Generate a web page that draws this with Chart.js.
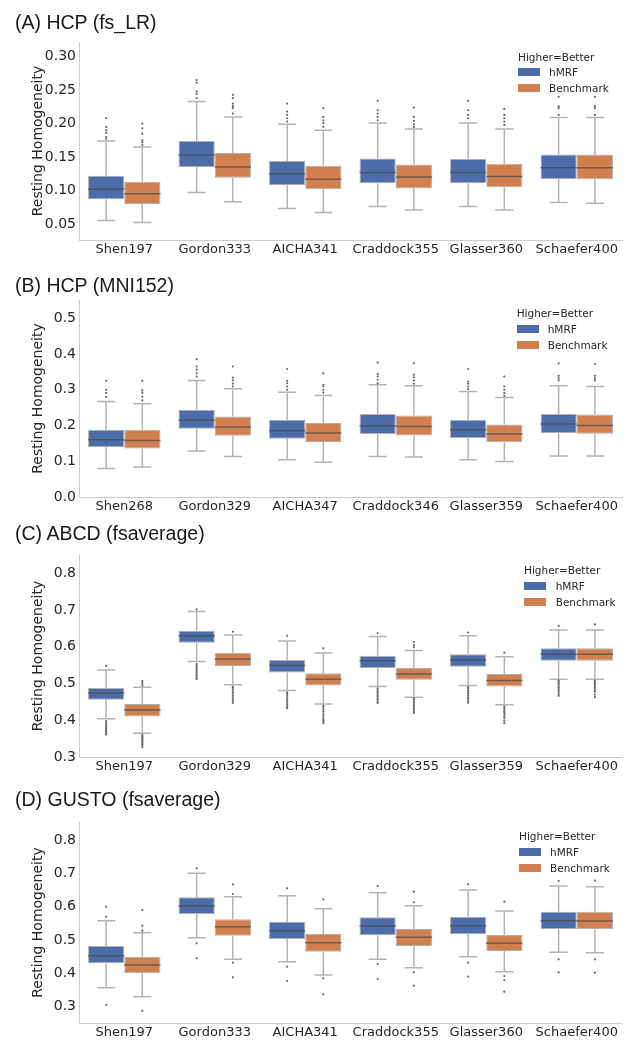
<!DOCTYPE html>
<html>
<head>
<meta charset="utf-8">
<script src="https://cdn.jsdelivr.net/npm/chart.js@4.4.1/dist/chart.umd.min.js"></script>
<style>
  body { margin: 0; background: #fff; }
  #page { position: relative; width: 640px; height: 1050px; overflow: hidden; }
  #page canvas { position: absolute; left: 0; }
  .ptitle { position: absolute; left: 15px; font: 19.5px "Liberation Sans", Arial, sans-serif; color: #1a1a1a; line-height: 24px; white-space: nowrap; }
  .lg { position: absolute; font: 10.5px "DejaVu Sans", sans-serif; color: #262626; line-height: 14px; white-space: nowrap; }
  .sw { position: absolute; width: 22px; height: 8px; }
</style>
</head>
<body>
<div id="page"></div>
<script>
// box stats per category: [lower whisker, Q1, median, Q3, upper whisker]

// (A) HCP (fs_LR)
const aCats = ['Shen197', 'Gordon333', 'AICHA341', 'Craddock355', 'Glasser360', 'Schaefer400'];
const aTicks = [0.05, 0.10, 0.15, 0.20, 0.25, 0.30];
const aHmrf = [
  [0.055, 0.087, 0.102, 0.122, 0.174],
  [0.097, 0.135, 0.153, 0.174, 0.233],
  [0.073, 0.108, 0.125, 0.144, 0.199],
  [0.076, 0.111, 0.127, 0.148, 0.201],
  [0.076, 0.111, 0.127, 0.147, 0.201],
  [0.082, 0.117, 0.134, 0.154, 0.209]
];
const aBench = [
  [0.052, 0.080, 0.095, 0.113, 0.165],
  [0.083, 0.119, 0.135, 0.156, 0.210],
  [0.067, 0.102, 0.117, 0.137, 0.190],
  [0.071, 0.103, 0.120, 0.139, 0.192],
  [0.071, 0.105, 0.121, 0.140, 0.192],
  [0.081, 0.117, 0.134, 0.154, 0.209]
];
const aHmrfOut = [
  [0.208, 0.195, 0.190, 0.186, 0.180, 0.177],
  [0.265, 0.261, 0.248, 0.244, 0.238],
  [0.230, 0.218, 0.213, 0.208, 0.203],
  [0.234, 0.220, 0.215, 0.210, 0.205],
  [0.234, 0.220, 0.213, 0.208],
  [0.240, 0.226, 0.223, 0.213]
];
const aBenchOut = [
  [0.200, 0.193, 0.185, 0.175, 0.172, 0.168],
  [0.243, 0.238, 0.230, 0.226, 0.223, 0.215],
  [0.223, 0.210, 0.205, 0.201, 0.195],
  [0.224, 0.210, 0.204, 0.199, 0.195],
  [0.222, 0.213, 0.208, 0.203, 0.198],
  [0.240, 0.226, 0.223, 0.213]
];

// (B) HCP (MNI152)
const bCats = ['Shen268', 'Gordon329', 'AICHA347', 'Craddock346', 'Glasser359', 'Schaefer400'];
const bTicks = [0.0, 0.1, 0.2, 0.3, 0.4, 0.5];
const bHmrf = [
  [0.080, 0.139, 0.160, 0.188, 0.267],
  [0.129, 0.191, 0.215, 0.244, 0.326],
  [0.104, 0.163, 0.185, 0.216, 0.293],
  [0.113, 0.176, 0.199, 0.232, 0.314],
  [0.104, 0.165, 0.188, 0.216, 0.295],
  [0.115, 0.179, 0.204, 0.232, 0.311]
];
const bBench = [
  [0.084, 0.136, 0.158, 0.188, 0.261],
  [0.113, 0.171, 0.196, 0.225, 0.303],
  [0.097, 0.154, 0.179, 0.207, 0.284],
  [0.112, 0.172, 0.197, 0.228, 0.311],
  [0.099, 0.153, 0.176, 0.203, 0.278],
  [0.115, 0.177, 0.200, 0.231, 0.309]
];
const bHmrfOut = [
  [0.325, 0.300, 0.291, 0.280],
  [0.386, 0.365, 0.356, 0.346, 0.337],
  [0.358, 0.325, 0.318, 0.309, 0.300],
  [0.376, 0.344, 0.337, 0.328, 0.318],
  [0.358, 0.323, 0.317, 0.309, 0.302],
  [0.374, 0.339, 0.332, 0.326]
];
const bBenchOut = [
  [0.325, 0.298, 0.291, 0.281, 0.270],
  [0.365, 0.334, 0.326, 0.317, 0.309],
  [0.346, 0.314, 0.309, 0.300, 0.292],
  [0.374, 0.342, 0.335, 0.326, 0.317],
  [0.337, 0.309, 0.300, 0.291, 0.283],
  [0.372, 0.339, 0.332, 0.326]
];

// (C) ABCD (fsaverage)
const cCats = ['Shen197', 'Gordon329', 'AICHA341', 'Craddock355', 'Glasser359', 'Schaefer400'];
const cTicks = [0.3, 0.4, 0.5, 0.6, 0.7, 0.8];
const cHmrf = [
  [0.404, 0.456, 0.474, 0.488, 0.537],
  [0.560, 0.611, 0.630, 0.644, 0.696],
  [0.481, 0.530, 0.549, 0.564, 0.616],
  [0.492, 0.542, 0.562, 0.576, 0.628],
  [0.495, 0.546, 0.564, 0.580, 0.630],
  [0.512, 0.562, 0.580, 0.596, 0.646]
];
const cBench = [
  [0.365, 0.410, 0.428, 0.444, 0.490],
  [0.497, 0.548, 0.567, 0.584, 0.632],
  [0.444, 0.495, 0.512, 0.528, 0.583],
  [0.463, 0.510, 0.526, 0.542, 0.590],
  [0.442, 0.492, 0.508, 0.526, 0.573],
  [0.512, 0.562, 0.580, 0.596, 0.646]
];
const cHmrfOut = [
  [0.548, 0.398, 0.393, 0.389, 0.385, 0.381, 0.377, 0.373, 0.369, 0.365, 0.361],
  [0.702, 0.553, 0.548, 0.543, 0.539, 0.534, 0.530, 0.525, 0.521, 0.516, 0.512],
  [0.630, 0.476, 0.472, 0.467, 0.462, 0.457, 0.452, 0.447, 0.442, 0.437, 0.433],
  [0.637, 0.487, 0.483, 0.478, 0.474, 0.469, 0.465, 0.460, 0.456, 0.451, 0.447],
  [0.639, 0.490, 0.486, 0.481, 0.477, 0.472, 0.467, 0.462, 0.458, 0.453, 0.448],
  [0.657, 0.508, 0.505, 0.501, 0.497, 0.492, 0.488, 0.483, 0.478, 0.472, 0.467]
];
const cBenchOut = [
  [0.507, 0.501, 0.495, 0.360, 0.356, 0.353, 0.350, 0.347, 0.343, 0.340, 0.336, 0.333, 0.327],
  [0.641, 0.492, 0.489, 0.484, 0.478, 0.473, 0.467, 0.462, 0.457, 0.452, 0.447],
  [0.596, 0.440, 0.436, 0.430, 0.424, 0.418, 0.412, 0.406, 0.401, 0.397, 0.392],
  [0.613, 0.605, 0.599, 0.460, 0.456, 0.451, 0.447, 0.442, 0.438, 0.433, 0.429, 0.424, 0.420],
  [0.584, 0.438, 0.433, 0.428, 0.424, 0.420, 0.415, 0.410, 0.406, 0.399, 0.392],
  [0.661, 0.508, 0.505, 0.501, 0.497, 0.492, 0.488, 0.483, 0.478, 0.470, 0.463]
];

// (D) GUSTO (fsaverage)
const dCats = ['Shen197', 'Gordon333', 'AICHA341', 'Craddock355', 'Glasser360', 'Schaefer400'];
const dTicks = [0.3, 0.4, 0.5, 0.6, 0.7, 0.8];
const dHmrf = [
  [0.357, 0.430, 0.453, 0.482, 0.558],
  [0.507, 0.578, 0.603, 0.628, 0.700],
  [0.435, 0.503, 0.528, 0.555, 0.633],
  [0.442, 0.514, 0.542, 0.568, 0.642],
  [0.450, 0.517, 0.543, 0.570, 0.650],
  [0.463, 0.533, 0.558, 0.585, 0.662]
];
const dBench = [
  [0.330, 0.400, 0.425, 0.450, 0.522],
  [0.442, 0.513, 0.540, 0.562, 0.630],
  [0.395, 0.465, 0.492, 0.518, 0.594],
  [0.417, 0.482, 0.508, 0.533, 0.603],
  [0.405, 0.467, 0.490, 0.515, 0.587],
  [0.462, 0.532, 0.557, 0.585, 0.660]
];
const dHmrfOut = [
  [0.600, 0.570, 0.305],
  [0.715, 0.490, 0.445],
  [0.655, 0.420, 0.377],
  [0.662, 0.428, 0.383],
  [0.667, 0.432, 0.390],
  [0.677, 0.442, 0.403]
];
const dBenchOut = [
  [0.590, 0.543, 0.528, 0.288],
  [0.667, 0.638, 0.432, 0.388],
  [0.622, 0.385, 0.337],
  [0.645, 0.613, 0.403, 0.363],
  [0.615, 0.392, 0.380, 0.345],
  [0.678, 0.442, 0.402]
];

const seriesNames = ['hMRF', 'Benchmark'];
const legendTitle = 'Higher=Better';
const yTitle = 'Resting Homogeneity';

const BLUE = '#4b6ca9';
const ORANGE = '#d27f50';
const WHISKER = '#b4b4b4';
const MEDIAN = '#4d4d4d';
const DOT = '#6a6a6a';
const TEXT = '#262626';

// whiskers, caps and outliers go behind the boxes, medians on top
const boxParts = {
  id: 'boxParts',
  beforeDatasetsDraw(chart) { drawParts(chart, 'back'); },
  afterDatasetsDraw(chart) { drawParts(chart, 'front'); }
};

function drawParts(chart, layer) {
  const ctx = chart.ctx;
  const y = chart.scales.y;
  chart.data.datasets.forEach((ds, di) => {
    const meta = chart.getDatasetMeta(di);
    meta.data.forEach((bar, i) => {
      const [lo, q1, med, q3, hi] = ds.stats[i];
      const x = bar.x;
      const w = bar.width;
      ctx.save();
      if (layer === 'back') {
        ctx.strokeStyle = WHISKER;
        ctx.lineWidth = 1.5;
        ctx.beginPath();
        ctx.moveTo(x, y.getPixelForValue(lo));
        ctx.lineTo(x, y.getPixelForValue(q1));
        ctx.moveTo(x, y.getPixelForValue(q3));
        ctx.lineTo(x, y.getPixelForValue(hi));
        ctx.moveTo(x - w / 4, y.getPixelForValue(lo));
        ctx.lineTo(x + w / 4, y.getPixelForValue(lo));
        ctx.moveTo(x - w / 4, y.getPixelForValue(hi));
        ctx.lineTo(x + w / 4, y.getPixelForValue(hi));
        ctx.stroke();
        ctx.fillStyle = DOT;
        ds.outliers[i].forEach(v => {
          ctx.beginPath();
          ctx.arc(x, y.getPixelForValue(v), 1.1, 0, Math.PI * 2);
          ctx.fill();
        });
      } else {
        ctx.strokeStyle = MEDIAN;
        ctx.globalAlpha = 0.75;
        ctx.lineWidth = 1.5;
        ctx.beginPath();
        ctx.moveTo(x - w / 2, y.getPixelForValue(med));
        ctx.lineTo(x + w / 2, y.getPixelForValue(med));
        ctx.stroke();
      }
      ctx.restore();
    });
  });
}

const panels = [
  { title: '(A) HCP (fs_LR)', cats: aCats, ticks: aTicks, dec: 2, hmrf: aHmrf, bench: aBench, hmrfOut: aHmrfOut, benchOut: aBenchOut,
    min: 0.026, max: 0.322, top: 30, h: 235, titleY: 22, lg: [518, 56.7, 72.3, 88.3, 549] },
  { title: '(B) HCP (MNI152)', cats: bCats, ticks: bTicks, dec: 1, hmrf: bHmrf, bench: bBench, hmrfOut: bHmrfOut, benchOut: bBenchOut,
    min: 0, max: 0.551, top: 288, h: 234, titleY: 285, lg: [516.7, 313.3, 329, 345, 547.7] },
  { title: '(C) ABCD (fsaverage)', cats: cCats, ticks: cTicks, dec: 1, hmrf: cHmrf, bench: cBench, hmrfOut: cHmrfOut, benchOut: cBenchOut,
    min: 0.3, max: 0.85, top: 543, h: 239, titleY: 533, lg: [524, 570, 586, 602, 555.7] },
  { title: '(D) GUSTO (fsaverage)', cats: dCats, ticks: dTicks, dec: 1, hmrf: dHmrf, bench: dBench, hmrfOut: dHmrfOut, benchOut: dBenchOut,
    min: 0.251, max: 0.854, top: 810, h: 238, titleY: 799, lg: [519, 835.7, 851.7, 868.3, 550] }
];

const page = document.getElementById('page');

const addText = (cls, text, left, centerY, half) => {
  const el = document.createElement('div');
  el.className = cls;
  el.textContent = text;
  el.style.left = left + 'px';
  el.style.top = (centerY - half) + 'px';
  page.appendChild(el);
};

panels.forEach(p => {
  const canvas = document.createElement('canvas');
  canvas.width = 640;
  canvas.height = p.h;
  canvas.style.top = p.top + 'px';
  page.appendChild(canvas);

  new Chart(canvas, {
    type: 'bar',
    data: {
      labels: p.cats,
      datasets: [
        { label: seriesNames[0], data: p.hmrf.map(s => [s[1], s[3]]), stats: p.hmrf, outliers: p.hmrfOut,
          backgroundColor: BLUE, borderColor: 'rgba(110,110,110,0.55)', borderWidth: 1, borderSkipped: false,
          categoryPercentage: 0.8, barPercentage: 1.0 },
        { label: seriesNames[1], data: p.bench.map(s => [s[1], s[3]]), stats: p.bench, outliers: p.benchOut,
          backgroundColor: ORANGE, borderColor: 'rgba(110,110,110,0.55)', borderWidth: 1, borderSkipped: false,
          categoryPercentage: 0.8, barPercentage: 1.0 }
      ]
    },
    options: {
      responsive: false,
      animation: false,
      devicePixelRatio: 1,
      layout: { padding: { top: 12, right: 18, left: 0, bottom: 0 } },
      plugins: { legend: { display: false }, tooltip: { enabled: false } },
      scales: {
        x: {
          grid: { display: false, drawTicks: false },
          border: { display: true, color: '#cccccc', width: 1 },
          ticks: { color: TEXT, font: { family: 'DejaVu Sans', size: 13 }, padding: 2, maxRotation: 0 },
          afterFit: s => { s.height = 25; }
        },
        y: {
          min: p.min,
          max: p.max,
          grid: { display: false, drawTicks: false },
          border: { display: true, color: '#cccccc', width: 1 },
          ticks: { color: TEXT, font: { family: 'DejaVu Sans', size: 14 }, padding: 3,
                   callback: v => Number(v).toFixed(p.dec) },
          afterBuildTicks: s => { s.ticks = p.ticks.map(v => ({ value: v })); },
          title: { display: true, text: yTitle, color: TEXT, font: { family: 'DejaVu Sans', size: 14 },
                   padding: { top: 29.6, bottom: 0 } },
          afterFit: s => { s.width = 79; }
        }
      }
    },
    plugins: [boxParts]
  });

  addText('ptitle', p.title, 15, p.titleY, 12);

  const [lx, ty, r1, r2, tx] = p.lg;
  addText('lg', legendTitle, lx, ty, 7);
  [r1, r2].forEach((ry, k) => {
    const sw = document.createElement('div');
    sw.className = 'sw';
    sw.style.left = lx + 'px';
    sw.style.top = (ry - 4) + 'px';
    sw.style.background = k === 0 ? BLUE : ORANGE;
    page.appendChild(sw);
    addText('lg', seriesNames[k], tx, ry, 7);
  });
});
</script>
</body>
</html>
